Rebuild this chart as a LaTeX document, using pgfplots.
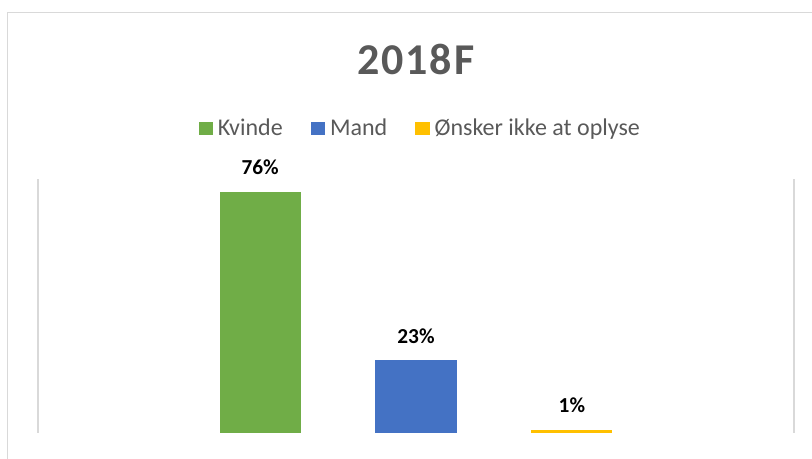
\documentclass[border=0pt]{standalone}
\usepackage{pgfplots}
\pgfplotsset{compat=1.18}
\usepackage{fontspec}
\setmainfont{Carlito}
\newfontfamily\titlefont[LetterSpace=4]{Carlito}
\definecolor{cgreen}{HTML}{70AD47}
\definecolor{cblue}{HTML}{4472C4}
\definecolor{cyellow}{HTML}{FFC000}
\definecolor{cgrid}{HTML}{D9D9D9}
\definecolor{ctext}{HTML}{595959}
\begin{document}
\begin{tikzpicture}
\path[use as bounding box] (-28.5pt,-19.5pt) rectangle (580.5pt,324.75pt);
\draw[cgrid, line width=1.1pt] (-22.8pt,-40pt) -- (-22.8pt,315.5pt) -- (620pt,315.5pt);
\begin{axis}[
  at={(0,0)}, anchor=south west,
  scale only axis,
  width=567pt, height=190.5pt,
  xmin=-1.425, xmax=3.425,
  ymin=0, ymax=80,
  xtick=\empty, ytick=\empty,
  separate axis lines,
  x axis line style={draw=none},
  y axis line style={draw=cgrid, line width=0.9pt},
  ybar, bar width=0.52, bar shift=0pt,
  clip=false,
  /pgf/number format/assume math mode=true,
  nodes near coords={\pgfmathprintnumber{\pgfplotspointmeta}\%},
  every node near coord/.append style={font=\fontsize{16pt}{18pt}\selectfont\bfseries, text=black, anchor=south, inner sep=0pt, yshift=12.3pt},
  legend style={draw=none, fill=none, at={(0.506,1.2)}, anchor=center,
    font=\fontsize{18pt}{20pt}\selectfont, text=ctext,
    legend columns=-1,
    /tikz/every odd column/.append style={column sep=1.5pt},
    /tikz/every even column/.append style={column sep=19pt}},
  legend image code/.code={\fill[#1] (0pt,-5pt) rectangle (11pt,5pt);},
]
\addplot[draw=none, fill=cgreen] coordinates {(0,76)};
\addplot[draw=none, fill=cblue] coordinates {(1,23)};
\addplot[draw=none, fill=cyellow] coordinates {(2,1)};
\legend{Kvinde, Mand, Ønsker ikke at oplyse}
\node[anchor=base, text=ctext, font=\titlefont\fontsize{33pt}{36pt}\selectfont\bfseries] at (axis cs:1,113.07) {2018F};
\end{axis}
\end{tikzpicture}
\end{document}
